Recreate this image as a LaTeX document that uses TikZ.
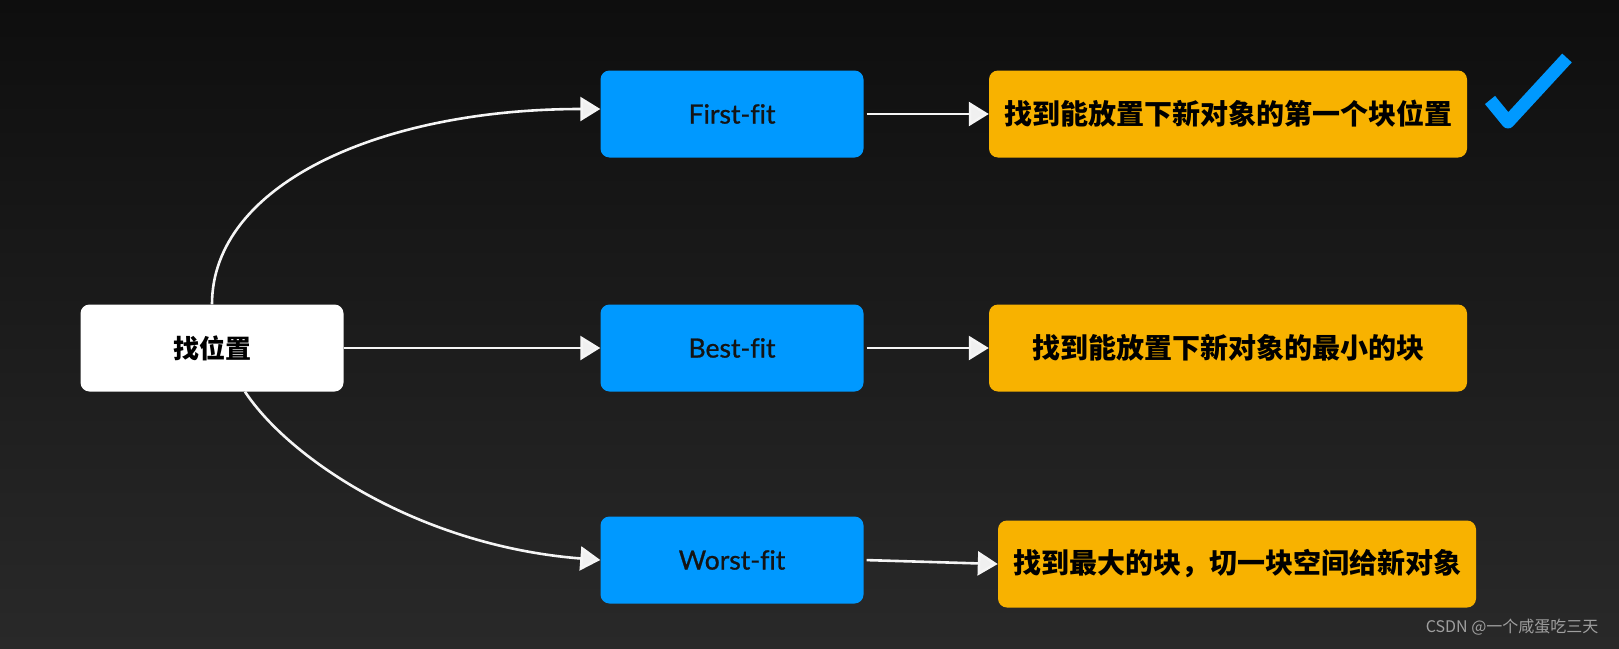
\documentclass[tikz,border=0pt]{standalone}
\usepackage{fontspec}
\setmainfont{Lato}
\newfontfamily\fitfont{Lato}[Ligatures=NoCommon, FakeBold=0.9]
\newfontfamily\cjk{Noto Sans CJK SC}
\usetikzlibrary{arrows.meta}
\definecolor{bgtop}{HTML}{0E0E0E}
\definecolor{bgbottom}{HTML}{292929}
\definecolor{fitblue}{HTML}{0099FF}
\definecolor{ruleyellow}{HTML}{F8B200}
\tikzset{
  startbox/.style={fill=white, rounded corners=9pt, minimum width=263pt,
    minimum height=87pt, text=black, font=\cjk\bfseries\fontsize{26}{30}\selectfont},
  fitbox/.style={fill=fitblue, rounded corners=9pt, minimum width=263pt,
    minimum height=87pt, text=black!92, font=\fitfont\fontsize{26.5}{30}\selectfont},
  rulebox/.style={fill=ruleyellow, rounded corners=9pt, minimum width=478pt,
    minimum height=87pt, text=black, font=\cjk\bfseries\fontsize{28}{32}\selectfont},
  chalk/.style={draw=white!92!gray, line width=2.6pt,
    -{Triangle[length=20pt,width=24pt,fill=white!88!gray]}},
}

\begin{document}
\begin{tikzpicture}[x=1pt, y=-1pt]
			\shade[top color=bgtop, bottom color=bgbottom] (0,0) rectangle (1619,648);
			\useasboundingbox (0,0) rectangle (1619,648);

			\node[startbox] (loc) at (212,348) {找位置};
			\node[fitbox] (first) at (732,114) {First-fit};
			\node[fitbox] (best) at (732,348) {Best-fit};
			\node[fitbox] (worst) at (732,560) {Worst-fit};
			\node[rulebox] (firstrule) at (1228,114) {找到能放置下新对象的第一个块位置};
			\node[rulebox] (bestrule) at (1228,348) {找到能放置下新对象的最小的块};
			\node[rulebox] (worstrule) at (1237,564) {找到最大的块，切一块空间给新对象};

			\draw[chalk] (loc.north) .. controls +(0,-120) and +(-220,0) .. ([yshift=5pt]first.west);
			\draw[chalk] (loc.east) -- (best.west);
			\draw[chalk] ([xshift=33pt]loc.south) .. controls +(45,68) and +(-180,-14) .. (worst.west);
			\draw[chalk, shorten <=3pt] (first.east) -- (firstrule.west);
			\draw[chalk, shorten <=3pt] (best.east) -- (bestrule.west);
			\draw[chalk, shorten <=3pt] (worst.east) -- (worstrule.west);

			% tick
			\draw[fitblue, line width=13pt, line join=round] (1490,100) -- (1508,122) -- (1567,58);

			\node[anchor=east, text=gray!75, font=\cjk\fontsize{16}{18}\selectfont] (mark)
			at (1602,627) {CSDN @一个咸蛋吃三天};
		\end{tikzpicture}
\end{document}
